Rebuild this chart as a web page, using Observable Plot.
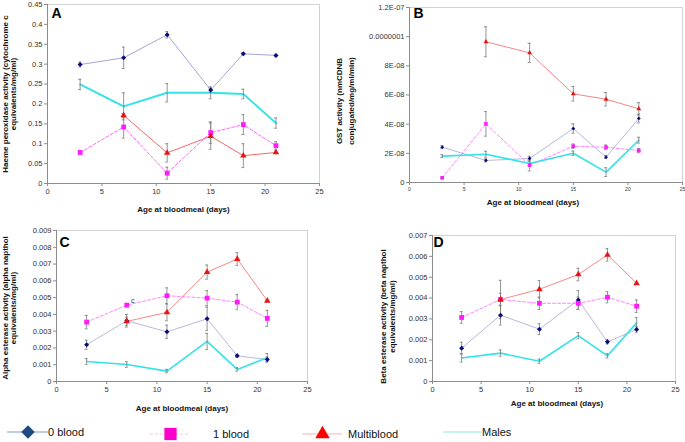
<!DOCTYPE html>
<html><head><meta charset="utf-8">
<script src="https://cdn.jsdelivr.net/npm/d3@7"></script>
<script src="https://cdn.jsdelivr.net/npm/@observablehq/plot@0.6"></script>
<style>
body{margin:0;background:#fff;}
#root{position:relative;width:685px;height:442px;overflow:hidden;font-family:"Liberation Sans",Arial,sans-serif;}
#root svg{position:absolute;overflow:visible;}
</style></head><body><div id="root"></div>
<script>
// ---------- data ----------
const days = [3, 7, 11, 15, 18, 21];
const seriesNames = ["0 blood", "1 blood", "Multiblood", "Males"];
const xTicks = [0, 5, 10, 15, 20, 25];
const xLabel = "Age at bloodmeal (days)";

// Panel A – haeme peroxidase
const aZero = [0.299, 0.316, 0.374, 0.235, 0.326, 0.322];
const aZeroErr = [0.006, 0.027, 0.008, 0.005, 0.003, 0.003];
const aOne = [0.078, 0.142, 0.026, 0.128, 0.148, 0.095];
const aOneErr = [0.004, 0.028, 0.015, 0.027, 0.025, 0.010];
const aMulti = [null, 0.171, 0.077, 0.119, 0.070, 0.078];
const aMultiErr = [null, 0.005, 0.023, 0.033, 0.030, 0.003];
const aMales = [0.249, 0.194, 0.228, 0.228, 0.225, 0.152];
const aMalesErr = [0.013, 0.034, 0.023, 0.015, 0.012, 0.013];
const aYTicks = [0, 0.05, 0.1, 0.15, 0.2, 0.25, 0.3, 0.35, 0.4, 0.45];
const aYLabels = ["0", "0.05", "0.1", "0.15", "0.2", "0.25", "0.3", "0.35", "0.4", "0.45"];
const aTitle = "Haeme peroxidase activity (cytochrome c\nequivalents/mg/ml)";

// Panel B – GST
const bZero = [2.42e-8, 1.51e-8, 1.65e-8, 3.70e-8, 1.74e-8, 4.39e-8];
const bZeroErr = [0.1e-8, 0.1e-8, 0.15e-8, 0.32e-8, 0.1e-8, 0.3e-8];
const bOne = [0.32e-8, 4.02e-8, 1.19e-8, 2.49e-8, 2.42e-8, 2.19e-8];
const bOneErr = [0.05e-8, 0.84e-8, 0.4e-8, 0.15e-8, 0.15e-8, 0.15e-8];
const bMulti = [null, 9.65e-8, 8.89e-8, 6.08e-8, 5.71e-8, 5.05e-8];
const bMultiErr = [null, 1.03e-8, 0.66e-8, 0.5e-8, 0.46e-8, 0.42e-8];
const bMales = [1.81e-8, 1.94e-8, 1.30e-8, 2.01e-8, 0.71e-8, 2.90e-8];
const bMalesErr = [0.1e-8, 0.2e-8, 0.15e-8, 0.15e-8, 0.3e-8, 0.2e-8];
const bYTicks = [0, 2e-8, 4e-8, 6e-8, 8e-8, 1e-7, 1.2e-7];
const bYLabels = ["0", "2E-08", "4E-08", "6E-08", "8E-08", "0.0000001", "1.2E-07"];
const bTitle = "GST activity (nmCDNB\nconjugated/mg/ml/min)";

// Panel C – alpha esterase
const cZero = [0.00219, 0.00362, 0.00296, 0.00374, 0.00153, 0.00131];
const cZeroErr = [0.00027, 0.00038, 0.0004, 0.0007, 0.0001, 0.00015];
const cOne = [0.00354, 0.00455, 0.00511, 0.00497, 0.00473, 0.00376];
const cOneErr = [0.0004, 0.0001, 0.00047, 0.00045, 0.00045, 0.00048];
const cMulti = [null, 0.00358, 0.00412, 0.00652, 0.0073, 0.00481];
const cMultiErr = [null, 0.00025, 0.0005, 0.00042, 0.00038, 0.00005];
const cMales = [0.00119, 0.00101, 0.00062, 0.00239, 0.00072, 0.00141];
const cMalesErr = [0.00017, 0.00017, 0.0001, 0.00048, 0.0001, 0.00025];
const cYTicks = [0, 0.001, 0.002, 0.003, 0.004, 0.005, 0.006, 0.007, 0.008, 0.009];
const cYLabels = ["0", "0.001", "0.002", "0.003", "0.004", "0.005", "0.006", "0.007", "0.008", "0.009"];
const cTitle = "Alpha esterase activity (alpha napthol\nequivalents/mg/ml)";
const cNote = [{series: "1 blood", day: 7, text: "c"}];

// Panel D – beta esterase
const dZero = [0.0016, 0.00318, 0.00251, 0.00391, 0.0019, 0.00249];
const dZeroErr = [0.00028, 0.00048, 0.00026, 0.00045, 0.0001, 0.00015];
const dOne = [0.00307, 0.00393, 0.00375, 0.00375, 0.00404, 0.00361];
const dOneErr = [0.00028, 0.00092, 0.0003, 0.0003, 0.00027, 0.0003];
const dMulti = [null, 0.00393, 0.00442, 0.00513, 0.00607, 0.00471];
const dMultiErr = [null, 0.0003, 0.00042, 0.0003, 0.0003, 0.00003];
const dMales = [0.00113, 0.00136, 0.00097, 0.0022, 0.00123, 0.00281];
const dMalesErr = [0.0002, 0.00015, 0.0001, 0.00015, 0.0001, 0.00025];
const dYTicks = [0, 0.001, 0.002, 0.003, 0.004, 0.005, 0.006, 0.007];
const dYLabels = ["0", "0.001", "0.002", "0.003", "0.004", "0.005", "0.006", "0.007"];
const dTitle = "Beta esterase activity (beta napthol\nequivalents/mg/ml)";

// ---------- styles ----------
const FONT = '"Liberation Sans", Arial, sans-serif';
// square diamond (rhombus of equal width and height)
const squareDiamond = {
  draw(ctx, size) {
    const r = Math.sqrt(size / 2);
    ctx.moveTo(0, -r); ctx.lineTo(r, 0); ctx.lineTo(0, r); ctx.lineTo(-r, 0); ctx.closePath();
  }
};
const seriesStyle = {
  "0 blood":    {line: "#a6a6d6", width: 1, dash: null,  symbol: squareDiamond, r: 2.0, fill: "#0b0b7a"},
  "1 blood":    {line: "#ff66ff", width: 1, dash: "3,2", symbol: "square",   r: 2.7, fill: "#ff1aff"},
  "Multiblood": {line: "#f26868", width: 1, dash: null,  symbol: "triangle", r: 2.4, fill: "#e81414"},
  "Males":      {line: "#33e3e8", width: 2, dash: null,  symbol: null}
};

function rowsFor(vals, errs, series) {
  return days.map((d, i) => ({day: d, value: vals[i], err: errs[i], series}))
    .filter(r => r.value != null);
}

function panel(p) {
  const groups = [
    rowsFor(p.zero, p.zeroErr, "0 blood"),
    rowsFor(p.one, p.oneErr, "1 blood"),
    rowsFor(p.multi, p.multiErr, "Multiblood"),
    rowsFor(p.males, p.malesErr, "Males")
  ];
  const all = groups.flat();
  const marks = [
    Plot.frame({stroke: "#d2d2d2"}),
    Plot.axisX({ticks: xTicks, tickSize: 3, tickPadding: 2, fontSize: p.xFont, stroke: "#8c8c8c", fill: "#333", label: null}),
    Plot.axisY({ticks: p.yTicks, tickFormat: d => p.yLabels[p.yTicks.indexOf(d)], tickSize: 3, tickPadding: 2,
                fontSize: 7.5, stroke: "#8c8c8c", fill: "#333", label: null}),
    Plot.ruleX([0], {stroke: "#8c8c8c"}),
    Plot.ruleY([0], {stroke: "#8c8c8c"})
  ];
  for (const g of groups) {
    const s = seriesStyle[g[0].series];
    marks.push(Plot.line(g, {x: "day", y: "value", stroke: s.line, strokeWidth: s.width * (p.lineScale || 1), strokeDasharray: s.dash}));
  }
  // error bars
  marks.push(
    Plot.ruleX(all, {x: "day", y1: d => d.value - d.err, y2: d => d.value + d.err, stroke: "#7a7a7a", strokeWidth: 0.8}),
    Plot.ruleY(all, {y: d => d.value + d.err, x1: d => d.day - 0.14, x2: d => d.day + 0.14, stroke: "#7a7a7a", strokeWidth: 0.8}),
    Plot.ruleY(all, {y: d => d.value - d.err, x1: d => d.day - 0.14, x2: d => d.day + 0.14, stroke: "#7a7a7a", strokeWidth: 0.8})
  );
  for (const g of groups) {
    const s = seriesStyle[g[0].series];
    if (!s.symbol) continue;
    marks.push(Plot.dot(g, {x: "day", y: "value", symbol: s.symbol, r: s.r * (p.markScale || 1), fill: s.fill, stroke: "none"}));
  }
  if (p.notes) {
    const noteRows = p.notes.map(n => {
      const r = all.find(d => d.series === n.series && d.day === n.day);
      return {day: n.day, value: r.value, text: n.text};
    });
    marks.push(Plot.text(noteRows, {x: "day", y: "value", text: "text", dx: 6, dy: -4, fontSize: 7, fill: "#333"}));
  }
  marks.push(
    Plot.text([p.letter], {frameAnchor: "top-left", dx: p.letterDx, dy: p.letterDy, fontSize: 14, fontWeight: "bold",
                           textAnchor: "start", lineAnchor: "top", fill: "#000"}),
    Plot.text([p.title], {frameAnchor: "left", rotate: -90, dx: p.yLabDx, dy: p.yLabDy, fontSize: 8, fontWeight: "bold",
                          textAnchor: "middle", lineAnchor: "middle", lineHeight: p.yLabLH, fill: "#111"}),
    Plot.text([xLabel], {frameAnchor: "bottom", dx: p.xLabDx, dy: p.xLabDy, fontSize: 8, fontWeight: "bold",
                         textAnchor: "middle", lineAnchor: "middle", fill: "#111"})
  );
  const svg = Plot.plot({
    width: p.w, height: p.h,
    marginLeft: p.mL, marginRight: p.mR, marginTop: p.mT, marginBottom: p.mB,
    x: {domain: [0, 25]},
    y: {domain: [0, p.yTicks[p.yTicks.length - 1]]},
    style: {fontFamily: FONT, background: "transparent", overflow: "visible"},
    marks
  });
  svg.style.left = p.left + "px";
  svg.style.top = p.top + "px";
  return svg;
}

const root = document.getElementById("root");
root.append(panel({
  letter: "A", title: aTitle, zero: aZero, zeroErr: aZeroErr, one: aOne, oneErr: aOneErr,
  multi: aMulti, multiErr: aMultiErr, males: aMales, malesErr: aMalesErr, yTicks: aYTicks, yLabels: aYLabels,
  left: 0, top: 0, w: 340, h: 215, mL: 47, mR: 21, mT: 4, mB: 32, xFont: 7.5,
  letterDx: 4, letterDy: 4, yLabDx: -38, yLabDy: 0, yLabLH: 1.05, xLabDx: 0, xLabDy: 26
}));
root.append(panel({
  letter: "B", title: bTitle, zero: bZero, zeroErr: bZeroErr, one: bOne, oneErr: bOneErr,
  multi: bMulti, multiErr: bMultiErr, males: bMales, malesErr: bMalesErr, yTicks: bYTicks, yLabels: bYLabels,
  left: 325, top: 0, w: 360, h: 215, mL: 84, mR: 3, mT: 7, mB: 33, xFont: 5, markScale: 0.75, lineScale: 0.8,
  letterDx: 4, letterDy: 1, yLabDx: -65.5, yLabDy: 6, yLabLH: 1.6, xLabDx: -13, xLabDy: 20
}));
root.append(panel({
  letter: "C", title: cTitle, zero: cZero, zeroErr: cZeroErr, one: cOne, oneErr: cOneErr,
  multi: cMulti, multiErr: cMultiErr, males: cMales, malesErr: cMalesErr, yTicks: cYTicks, yLabels: cYLabels,
  notes: cNote,
  left: 0, top: 215, w: 340, h: 200, mL: 56, mR: 33, mT: 15, mB: 34, xFont: 7.5, lineScale: 0.8,
  letterDx: 3, letterDy: 7, yLabDx: -47, yLabDy: 2, yLabLH: 1.05, xLabDx: 0, xLabDy: 27
}));
root.append(panel({
  letter: "D", title: dTitle, zero: dZero, zeroErr: dZeroErr, one: dOne, oneErr: dOneErr,
  multi: dMulti, multiErr: dMultiErr, males: dMales, malesErr: dMalesErr, yTicks: dYTicks, yLabels: dYLabels,
  left: 340, top: 215, w: 345, h: 200, mL: 92, mR: 10, mT: 20, mB: 34, xFont: 7.5, lineScale: 0.8,
  letterDx: 1, letterDy: 2, yLabDx: -44.5, yLabDy: 8, yLabLH: 1.1, xLabDx: 3, xLabDy: 22
}));

// ---------- legend ----------
const legendItems = [
  {name: "0 blood",    x0: 7,   x1: 48,  sym: squareDiamond,     size: 90,  line: "#8299c0", dash: null,  fill: "#1f4a80", tx: 48,  cy: 432},
  {name: "1 blood",    x0: 150, x1: 190, sym: d3.symbolSquare,   size: 150, line: "#f6c2ee", dash: "3,2", fill: "#ff00cc", tx: 213, cy: 434},
  {name: "Multiblood", x0: 302, x1: 342, sym: d3.symbolTriangle, size: 90,  line: "#f3b4b4", dash: null,  fill: "#ff0000", tx: 348, cy: 434},
  {name: "Males",      x0: 443, x1: 482, sym: null,              size: 0,   line: "#8ee6ee", dash: null,  fill: null,      tx: 482, cy: 432}
];
const lg = d3.select(root).append("svg").attr("width", 685).attr("height", 442).style("left", "0px").style("top", "0px");
for (const it of legendItems) {
  lg.append("line").attr("x1", it.x0).attr("x2", it.x1).attr("y1", it.cy).attr("y2", it.cy)
    .attr("stroke", it.line).attr("stroke-width", 1).attr("stroke-dasharray", it.dash);
  if (it.sym) {
    lg.append("path").attr("d", d3.symbol(it.sym, it.size)())
      .attr("transform", `translate(${(it.x0 + it.x1) / 2 + 0.5},${it.cy})`).attr("fill", it.fill);
  }
  lg.append("text").attr("x", it.tx).attr("y", it.cy).attr("dy", "0.35em")
    .attr("font-family", FONT).attr("font-size", 11).attr("fill", "#111").text(it.name);
}
</script>
</body></html>
